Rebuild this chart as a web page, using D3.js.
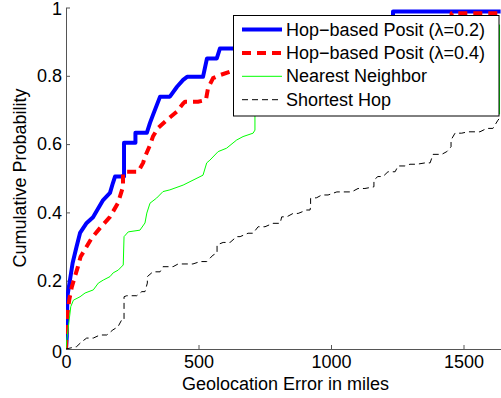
<!DOCTYPE html>
<html>
<head>
<meta charset="utf-8">
<script src="https://cdn.jsdelivr.net/npm/d3@7"></script>
<style>
    body { margin: 0; background: #fff; }
    text { font-family: "Liberation Sans", Arial, sans-serif; }
</style>
</head>
<body>
<div id="cdfvis"></div>
<script>
// cdf of geolocation error for the four methods
// each series is [miles, cumulative probability]

const hopPosit02 = [[0,0],[3,0.036],[5,0.153],[15,0.202],[25,0.252],[40,0.30],[53,0.34],[78,0.369],[102,0.386],
    [140,0.436],[166,0.457],[177,0.486],[185,0.505],[219,0.505],[219,0.604],[262,0.604],[262,0.633],[305,0.633],
    [317,0.662],[328,0.685],[355,0.739],[392,0.739],[419,0.768],[442,0.788],[457,0.797],[517,0.797],[532,0.851],
    [569,0.851],[581,0.88],[640,0.88],[700,0.90],[900,0.93],[1100,0.96],[1234,0.96],[1234,0.988],[1640,0.988]];

const hopPosit04 = [[0,0],[3,0.085],[12,0.143],[22,0.182],[45,0.241],[55,0.27],[78,0.30],[97,0.325],[128,0.354],
    [166,0.387],[196,0.427],[215,0.475],[215,0.512],[219,0.519],[272,0.519],[291,0.545],[298,0.563],[317,0.597],
    [328,0.622],[347,0.647],[381,0.671],[418,0.695],[442,0.719],[449,0.724],[498,0.724],[528,0.729],[536,0.764],
    [555,0.793],[581,0.802],[619,0.812],[700,0.84],[900,0.88],[1200,0.93],[1455,0.95],[1455,0.983],[1640,0.983]];

const nearestNeighbor = [[0,0],[3,0.026],[12,0.085],[18,0.124],[28,0.143],[53,0.153],[72,0.164],[103,0.173],
    [122,0.193],[141,0.202],[166,0.212],[178,0.223],[197,0.231],[216,0.246],[219,0.329],[235,0.343],[279,0.348],
    [298,0.369],[305,0.398],[317,0.427],[342,0.442],[366,0.461],[392,0.466],[442,0.48],[517,0.509],[531,0.545],
    [543,0.553],[574,0.578],[606,0.588],[644,0.612],[668,0.622],[706,0.632],[713,0.641],[713,0.688],[1636,0.688],
    [1636,0.95]];

const shortestHop = [[0,0],[40,0.007],[59,0.021],[78,0.032],[103,0.032],[128,0.041],[154,0.041],[177,0.056],
    [196,0.065],[210,0.085],[219,0.085],[219,0.153],[229,0.156],[267,0.156],[286,0.168],[298,0.168],[307,0.193],
    [307,0.212],[328,0.226],[355,0.226],[366,0.241],[404,0.241],[423,0.249],[479,0.249],[506,0.256],[531,0.256],
    [555,0.275],[570,0.281],[570,0.305],[593,0.312],[619,0.312],[644,0.329],[657,0.329],[687,0.339],[706,0.339],
    [725,0.358],[751,0.358],[781,0.368],[808,0.368],[814,0.387],[833,0.387],[857,0.397],[876,0.397],[908,0.407],
    [921,0.407],[923,0.417],[923,0.441],[946,0.443],[965,0.451],[989,0.451],[1022,0.46],[1078,0.46],[1102,0.47],
    [1128,0.47],[1162,0.475],[1162,0.495],[1177,0.505],[1196,0.505],[1215,0.519],[1242,0.519],[1253,0.536],
    [1279,0.536],[1298,0.541],[1324,0.541],[1355,0.545],[1374,0.545],[1385,0.57],[1418,0.57],[1437,0.578],
    [1453,0.592],[1453,0.612],[1468,0.632],[1493,0.632],[1517,0.636],[1562,0.636],[1588,0.646],[1611,0.646],
    [1630,0.67],[1640,0.68]];

const seriesNames = ["Hop\u2212based Posit (\u03bb=0.2)", "Hop\u2212based Posit (\u03bb=0.4)", "Nearest Neighbor", "Shortest Hop"];
const xTicks = [0, 500, 1000, 1500];
const yTicks = [0, 0.2, 0.4, 0.6, 0.8, 1];

// styles for each series, same order as names
const styles = [
    { color: "#0000ff", width: 4, dash: null },
    { color: "#ff0000", width: 4, dash: "9,6" },
    { color: "#00ff00", width: 1, dash: null },
    { color: "#000000", width: 1, dash: "6,4" }
];
const allSeries = [hopPosit02, hopPosit04, nearestNeighbor, shortestHop];

var margin = { top: 7.5, right: 0, bottom: 49, left: 66 }
var width = 501 - margin.left - margin.right
var height = 398 - margin.top - margin.bottom

const xScale = d3.scaleLinear()
    .domain([0, 1640])
    .range([0, 434.6]);

const yScale = d3.scaleLinear()
    .domain([0, 1])
    .range([height, 0]);

const svg = d3.select("#cdfvis")
    .append("svg")
    .attr("width", 501)
    .attr("height", 398)
    .append("g")
    .attr("transform", "translate(" + margin.left + "," + margin.top + ")");

svg.append("clipPath")
    .attr("id", "plotclip")
    .append("rect")
    .attr("x", 0)
    .attr("y", -2)
    .attr("width", width)
    .attr("height", height + 2);

// x axis with inward ticks
const xAxis = svg.append("g")
    .attr("transform", "translate(0," + height + ")")
    .call(d3.axisBottom(xScale).tickValues(xTicks).tickFormat(d3.format("d"))
        .tickSizeInner(-4).tickSizeOuter(0).tickPadding(6));

// y axis
const yAxis = svg.append("g")
    .call(d3.axisLeft(yScale).tickValues(yTicks).tickFormat(d3.format("~g"))
        .tickSizeInner(-4).tickSizeOuter(0).tickPadding(4));

[xAxis, yAxis].forEach(function (ax) {
    ax.selectAll("path, line").attr("stroke", "#555");
    ax.selectAll("text").attr("font-size", 18).attr("fill", "#000")
        .style("font-family", "'Liberation Sans', Arial, sans-serif");
});

// matlab nudges the end labels a little
yAxis.selectAll(".tick text")
    .attr("y", d => d === 1 ? 1.5 : (d === 0 ? 2.5 : 0));

// lines
const line = d3.line()
    .x(d => xScale(d[0]))
    .y(d => yScale(d[1]));

const lines = svg.append("g").attr("clip-path", "url(#plotclip)");
allSeries.forEach(function (s, i) {
    lines.append("path")
        .datum(s)
        .attr("d", line)
        .attr("fill", "none")
        .attr("stroke", styles[i].color)
        .attr("stroke-width", styles[i].width)
        .attr("stroke-dasharray", styles[i].dash)
        .attr("stroke-linejoin", "round");
});

// axis labels
svg.append("text")
    .attr("x", 285.5 - margin.left)
    .attr("y", 390 - margin.top)
    .attr("text-anchor", "middle")
    .attr("font-size", 18)
    .text("Geolocation Error in miles");

svg.append("text")
    .attr("transform", "translate(" + (26 - margin.left) + "," + (178 - margin.top) + ") rotate(-90)")
    .attr("text-anchor", "middle")
    .attr("font-size", 18)
    .text("Cumulative Probability");

// legend
const legend = svg.append("g")
    .attr("transform", "translate(" + (233.5 - margin.left) + "," + (15.5 - margin.top) + ")");

legend.append("rect")
    .attr("width", 265.5)
    .attr("height", 100.5)
    .attr("fill", "#fff")
    .attr("stroke", "#000")
    .attr("stroke-width", 1);

seriesNames.forEach(function (name, i) {
    var base = 20 + i * 23.4;
    legend.append("line")
        .attr("x1", 8.5).attr("x2", 48.5)
        .attr("y1", base - 6).attr("y2", base - 6)
        .attr("stroke", styles[i].color)
        .attr("stroke-width", styles[i].width)
        .attr("stroke-dasharray", styles[i].dash);
    legend.append("text")
        .attr("x", 52.5)
        .attr("y", base)
        .attr("font-size", 18)
        .text(name);
});
</script>
</body>
</html>
